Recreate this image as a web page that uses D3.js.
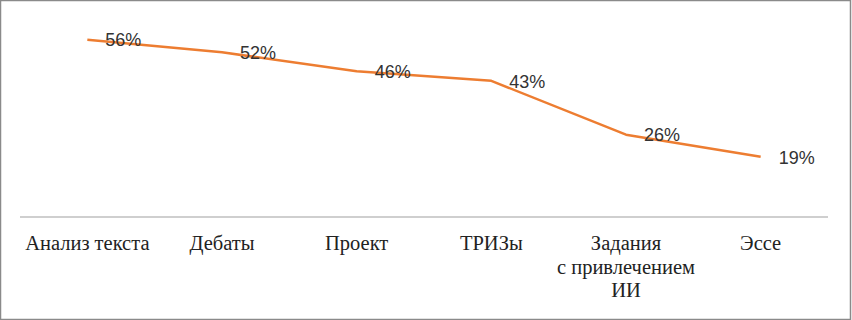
<!DOCTYPE html>
<html>
<head>
<meta charset="utf-8">
<script src="https://cdnjs.cloudflare.com/ajax/libs/d3/7.8.5/d3.min.js"></script>
<style>
  body { margin: 0; background: #fff; }
  svg { display: block; }
</style>
</head>
<body>
<div id="chart"></div>
<script>
// chart data
var categories = ["Анализ текста", "Дебаты", "Проект", "ТРИЗы", "Задания\nс привлечением\nИИ", "Эссе"];
var values = [56, 52, 46, 43, 26, 19];
var valueLabels = ["56%", "52%", "46%", "43%", "26%", "19%"];

var width = 852, height = 320;
var margin = { top: 27, right: 24, bottom: 103, left: 20 };

var svg = d3.select("#chart").append("svg")
    .attr("width", width)
    .attr("height", height);

// outer frame
svg.append("rect")
    .attr("x", 0.5).attr("y", 0.5)
    .attr("width", width - 2).attr("height", height - 1)
    .attr("fill", "#fff")
    .attr("stroke", "#8a8a8a")
    .attr("stroke-width", 1.5);

var data = categories.map(function(c, i) {
    return { cat: c, value: values[i], label: valueLabels[i] };
});

var x = d3.scaleBand()
    .domain(categories)
    .range([margin.left, width - margin.right]);

var y = d3.scaleLinear()
    .domain([0, 60])
    .range([height - margin.bottom, margin.top]);

// axis line
svg.append("line")
    .attr("x1", x.range()[0]).attr("x2", x.range()[1])
    .attr("y1", y(0)).attr("y2", y(0))
    .attr("stroke", "#bfbfbf")
    .attr("stroke-width", 1.5);

// category labels (multi-line)
var catG = svg.append("g");
catG.selectAll("text")
    .data(data)
    .enter().append("text")
    .attr("text-anchor", "middle")
    .attr("font-family", "'Liberation Serif', 'Times New Roman', serif")
    .attr("font-size", 20.5)
    .attr("fill", "#222")
    .each(function(d) {
        var t = d3.select(this);
        d.cat.split("\n").forEach(function(line, j) {
            t.append("tspan")
                .attr("x", x(d.cat) + x.bandwidth() / 2)
                .attr("y", y(0) + 33 + j * 23.5)
                .text(line);
        });
    });

// line
var line = d3.line()
    .x(function(d) { return x(d.cat) + x.bandwidth() / 2; })
    .y(function(d) { return y(d.value); });

svg.append("path")
    .datum(data)
    .attr("d", line)
    .attr("fill", "none")
    .attr("stroke", "#ed7d31")
    .attr("stroke-width", 2.5)
    .attr("stroke-linejoin", "round");

// value labels
svg.selectAll(".val")
    .data(data)
    .enter().append("text")
    .attr("class", "val")
    .attr("x", function(d) { return x(d.cat) + x.bandwidth() / 2 + 18; })
    .attr("y", function(d) { return y(d.value) + 2; })
    .attr("dominant-baseline", "middle")
    .attr("font-family", "'Liberation Sans', Arial, sans-serif")
    .attr("font-size", 18)
    .attr("fill", "#333")
    .text(function(d) { return d.label; });
</script>
</body>
</html>
